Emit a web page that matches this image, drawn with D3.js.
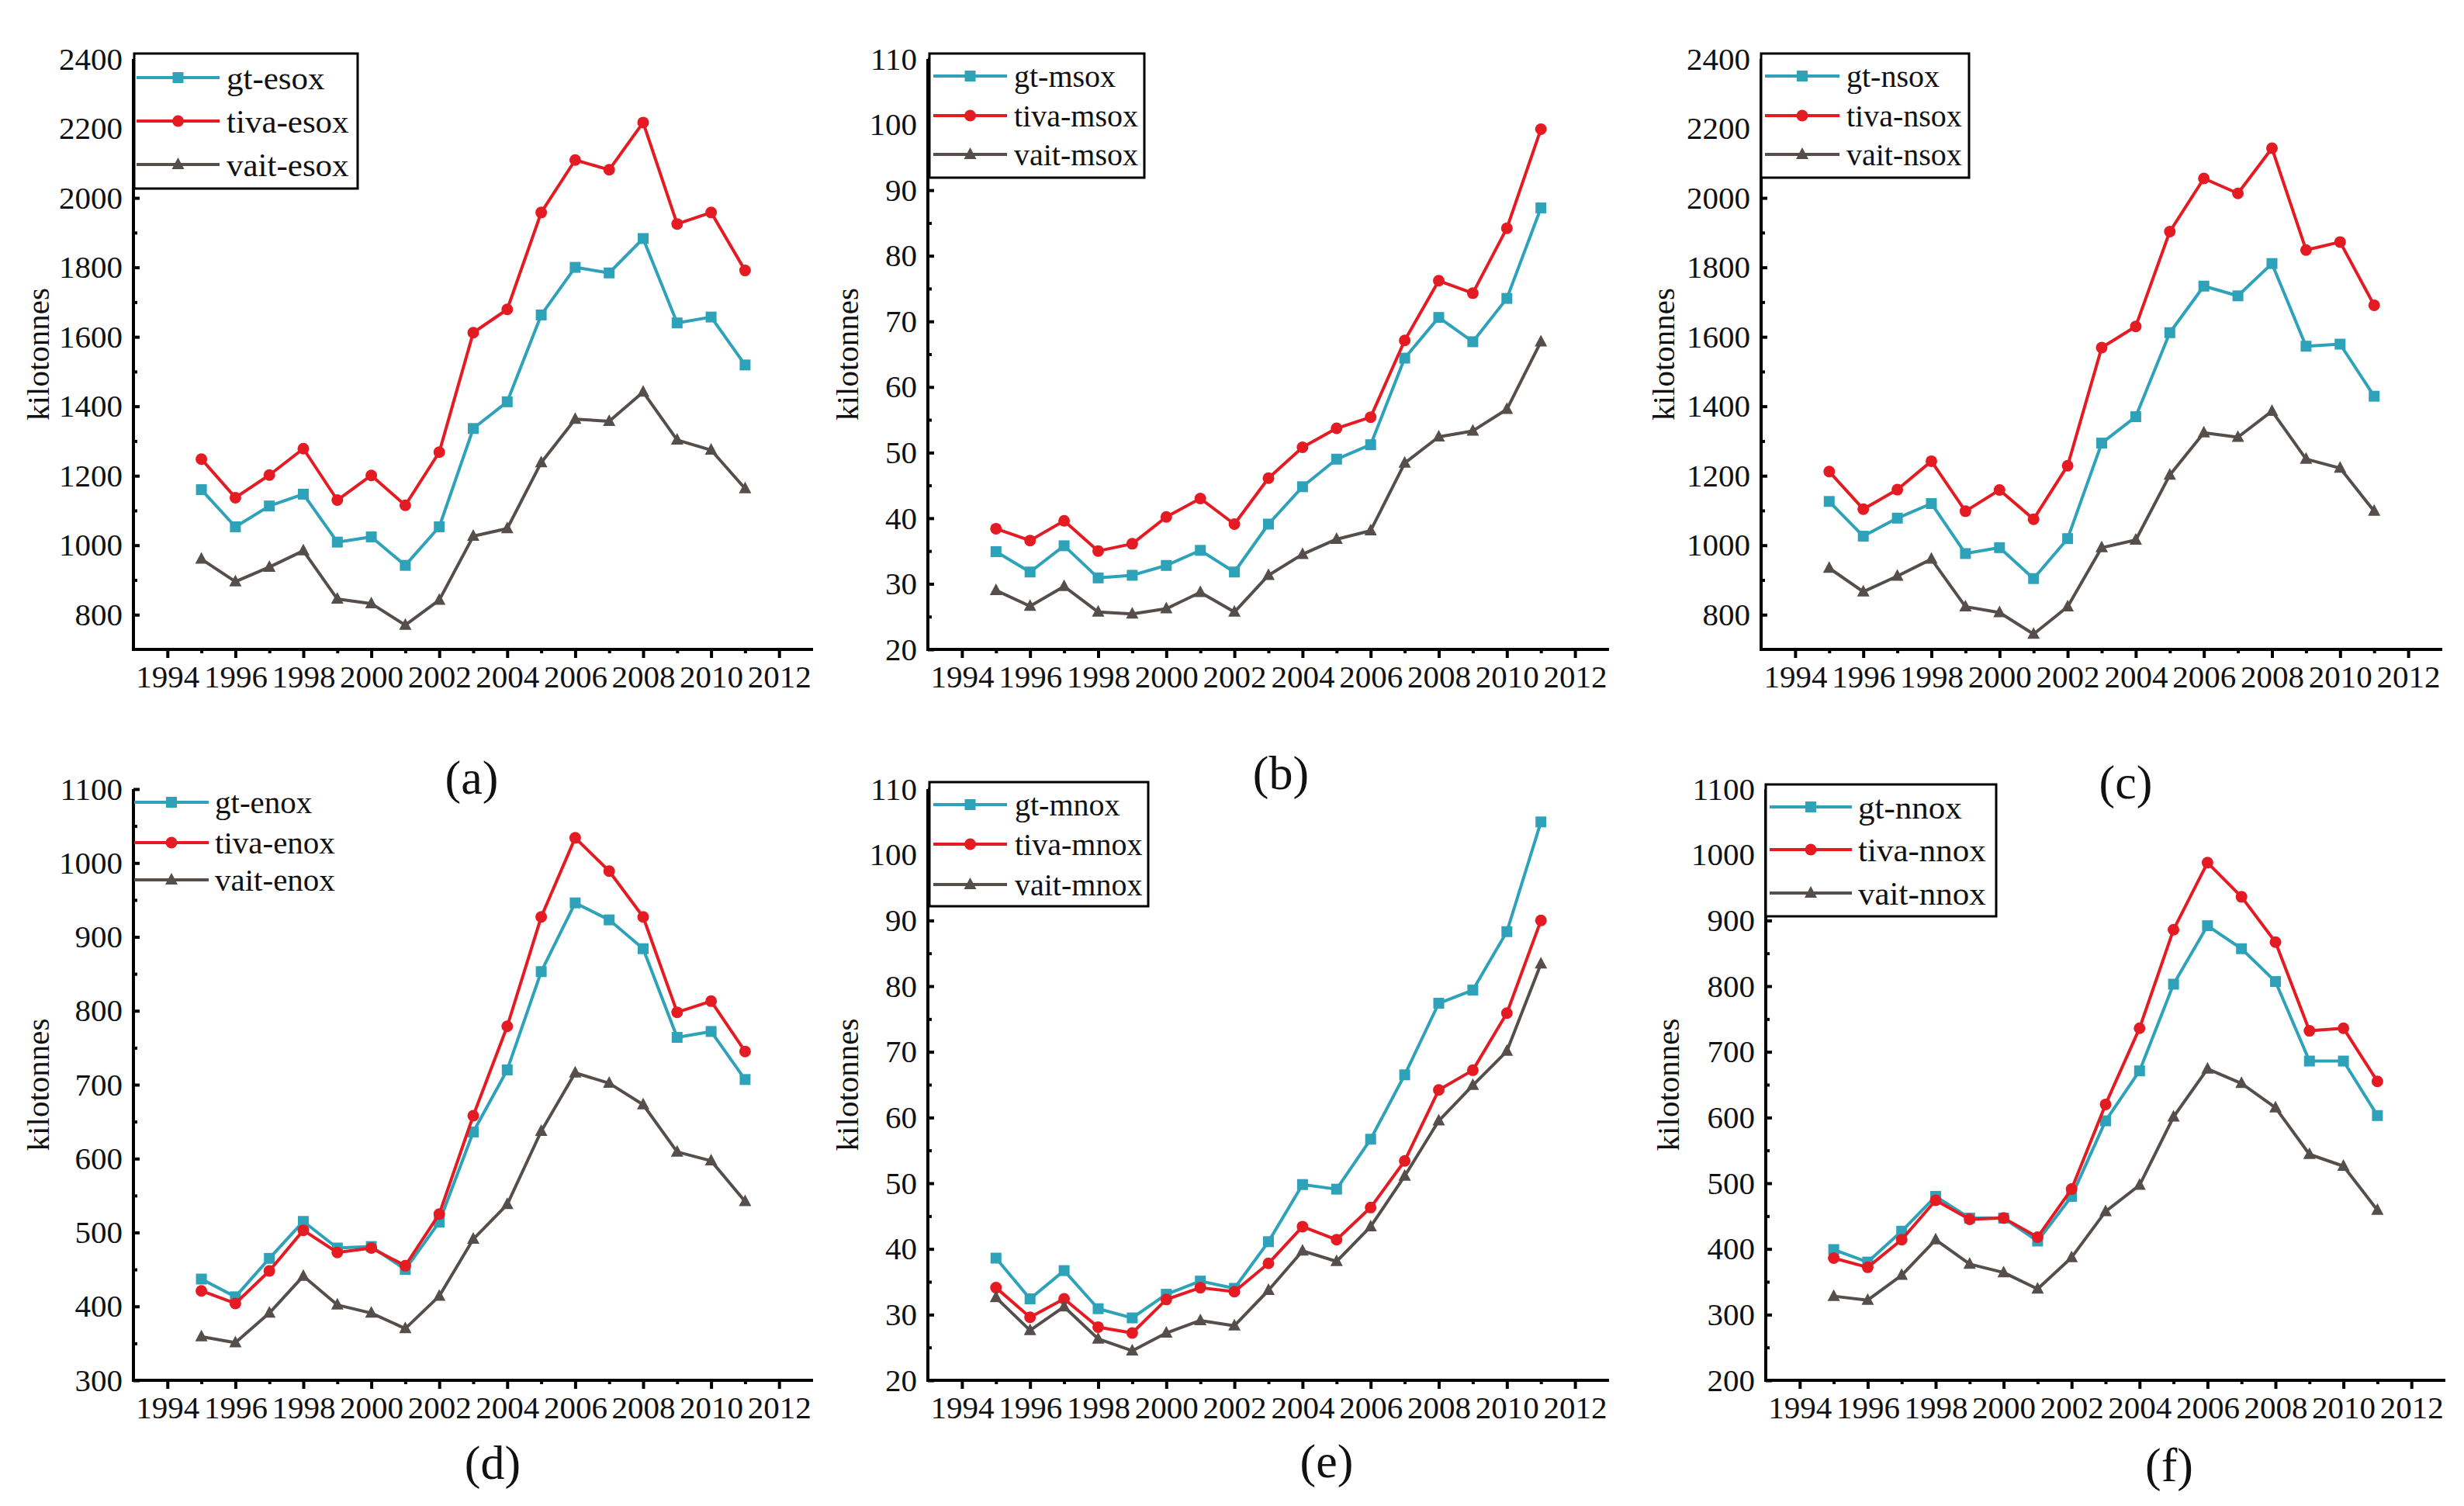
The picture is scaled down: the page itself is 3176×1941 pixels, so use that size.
<!DOCTYPE html>
<html>
<head>
<meta charset="utf-8">
<script src="https://cdn.jsdelivr.net/npm/d3@7"></script>
<style>
  body { margin: 0; background: #fff; }
  text { font-family: "Liberation Serif", "DejaVu Serif", serif; fill: #111; }
</style>
</head>
<body>
<svg id="chart"></svg>
<script>
// years on the x axis
const years = [1995, 1996, 1997, 1998, 1999, 2000, 2001, 2002, 2003, 2004, 2005, 2006, 2007, 2008, 2009, 2010, 2011];
const xTickYears = [1994, 1996, 1998, 2000, 2002, 2004, 2006, 2008, 2010, 2012];
const xMinorYears = [1995, 1997, 1999, 2001, 2003, 2005, 2007, 2009, 2011];

// (a) esox
const gtEsox   = [1160, 1053, 1113, 1147, 1009, 1024, 942, 1053, 1336, 1413, 1663, 1800, 1784, 1883, 1640, 1657, 1519];
const tivaEsox = [1248, 1137, 1202, 1278, 1130, 1201, 1115, 1268, 1612, 1679, 1958, 2109, 2081, 2217, 1925, 1958, 1791];
const vaitEsox = [960, 895, 937, 984, 845, 832, 770, 842, 1026, 1048, 1238, 1363, 1357, 1441, 1303, 1274, 1163];

// (b) msox
const gtMsox   = [34.9, 31.8, 35.8, 30.9, 31.3, 32.8, 35.1, 31.8, 39.1, 44.8, 49.0, 51.2, 64.4, 70.6, 66.9, 73.5, 87.3];
const tivaMsox = [38.4, 36.6, 39.6, 35.0, 36.1, 40.2, 43.0, 39.1, 46.1, 50.8, 53.7, 55.4, 67.1, 76.2, 74.3, 84.2, 99.3];
const vaitMsox = [29.0, 26.6, 29.6, 25.7, 25.4, 26.2, 28.7, 25.7, 31.3, 34.5, 36.8, 38.1, 48.4, 52.4, 53.3, 56.6, 66.9];

// (c) nsox
const gtNsox   = [1126, 1026, 1078, 1120, 976, 993, 904, 1019, 1294, 1370, 1612, 1746, 1718, 1811, 1573, 1579, 1429];
const tivaNsox = [1212, 1104, 1160, 1242, 1098, 1159, 1075, 1229, 1569, 1630, 1903, 2056, 2013, 2143, 1850, 1873, 1691];
const vaitNsox = [934, 866, 911, 960, 823, 806, 744, 823, 993, 1015, 1202, 1324, 1311, 1386, 1248, 1222, 1098];

// (d) enox
const gtEnox   = [437, 413, 465, 515, 479, 481, 450, 514, 636, 720, 853, 946, 923, 884, 764, 772, 707];
const tivaEnox = [421, 404, 448, 503, 473, 479, 455, 525, 658, 779, 927, 1034, 989, 927, 798, 813, 745];
const vaitEnox = [359, 351, 391, 441, 402, 391, 370, 414, 491, 538, 637, 716, 702, 673, 609, 597, 542];

// (e) mnox
const gtMnox   = [38.6, 32.4, 36.7, 30.9, 29.5, 33.1, 35.1, 34.0, 41.1, 49.8, 49.1, 56.7, 66.5, 77.4, 79.4, 88.3, 105.0];
const tivaMnox = [34.1, 29.6, 32.4, 28.1, 27.2, 32.3, 34.1, 33.5, 37.8, 43.4, 41.4, 46.3, 53.4, 64.2, 67.2, 75.9, 90.0];
const vaitMnox = [32.6, 27.6, 31.2, 26.3, 24.5, 27.2, 29.1, 28.3, 33.7, 39.7, 38.1, 43.4, 51.1, 59.5, 64.9, 70.1, 83.4];

// (f) nnox
const gtNnox   = [399, 380, 427, 480, 447, 447, 412, 480, 595, 671, 803, 892, 857, 807, 686, 686, 603];
const tivaNnox = [386, 372, 414, 474, 445, 447, 418, 491, 620, 736, 886, 988, 936, 867, 732, 736, 655];
const vaitNnox = [328, 322, 360, 414, 377, 364, 339, 387, 457, 497, 601, 674, 652, 615, 544, 526, 459];

// y tick labels
const ticksSox  = [800, 1000, 1200, 1400, 1600, 1800, 2000, 2200, 2400];
const minorSox  = [900, 1100, 1300, 1500, 1700, 1900, 2100, 2300];
const ticksM    = [20, 30, 40, 50, 60, 70, 80, 90, 100, 110];
const minorM    = [25, 35, 45, 55, 65, 75, 85, 95, 105];
const ticksEnox = [300, 400, 500, 600, 700, 800, 900, 1000, 1100];
const minorEnox = [350, 450, 550, 650, 750, 850, 950, 1050];
const ticksNnox = [200, 300, 400, 500, 600, 700, 800, 900, 1000, 1100];
const minorNnox = [250, 350, 450, 550, 650, 750, 850, 950, 1050];

const seriesNames = ["gt", "tiva", "vait"];
const colors = { gt: "#2ea2b9", tiva: "#e41b23", vait: "#554e4b" };
const serif = '"Liberation Serif", "DejaVu Serif", serif';

const svg = d3.select("#chart").attr("width", 3176).attr("height", 1941);

const panels = [
  { tag: "(a)", key: "esox", data: [gtEsox, tivaEsox, vaitEsox], dom: [700, 2400], ticks: ticksSox, minor: minorSox,
    x0: 172, x1: 1048, y0: 76, y1: 837, ylabX: 49, capX: 608, capY: 1002,
    leg: { box: [173, 461, 69, 243], rows: [100, 156, 212], line: [176, 283], tx: 292, fs: 43 } },
  { tag: "(b)", key: "msox", data: [gtMsox, tivaMsox, vaitMsox], dom: [20, 110], ticks: ticksM, minor: minorM,
    x0: 1196, x1: 2074, y0: 76, y1: 837, ylabX: 1092, capX: 1651, capY: 996,
    leg: { box: [1198, 1475, 69, 229], rows: [98, 149, 199], line: [1203, 1298], tx: 1307, fs: 40 } },
  { tag: "(c)", key: "nsox", data: [gtNsox, tivaNsox, vaitNsox], dom: [700, 2400], ticks: ticksSox, minor: minorSox,
    x0: 2270, x1: 3148, y0: 76, y1: 837, ylabX: 2144, capX: 2740, capY: 1008,
    leg: { box: [2270, 2538, 69, 229], rows: [98, 149, 199], line: [2275, 2371], tx: 2380, fs: 40 } },
  { tag: "(d)", key: "enox", data: [gtEnox, tivaEnox, vaitEnox], dom: [300, 1100], ticks: ticksEnox, minor: minorEnox,
    x0: 172, x1: 1048, y0: 1017, y1: 1779, ylabX: 49, capX: 635, capY: 1885,
    leg: { box: null, rows: [1034, 1086, 1134], line: [173, 269], tx: 277, fs: 41 } },
  { tag: "(e)", key: "mnox", data: [gtMnox, tivaMnox, vaitMnox], dom: [20, 110], ticks: ticksM, minor: minorM,
    x0: 1196, x1: 2074, y0: 1017, y1: 1779, ylabX: 1092, capX: 1710, capY: 1883,
    leg: { box: [1198, 1480, 1008, 1168], rows: [1037, 1088, 1140], line: [1203, 1298], tx: 1308, fs: 40 } },
  { tag: "(f)", key: "nnox", data: [gtNnox, tivaNnox, vaitNnox], dom: [200, 1100], ticks: ticksNnox, minor: minorNnox,
    x0: 2276, x1: 3152, y0: 1017, y1: 1779, ylabX: 2150, capX: 2796, capY: 1888,
    leg: { box: [2276, 2573, 1011, 1181], rows: [1040, 1095, 1151], line: [2281, 2387], tx: 2395, fs: 43 } }
];

function marker(g, name, x, y) {
  const c = colors[name];
  if (name === "gt") {
    g.append("rect").attr("x", x - 7).attr("y", y - 7).attr("width", 14).attr("height", 14).attr("fill", c);
  } else if (name === "tiva") {
    g.append("circle").attr("cx", x).attr("cy", y).attr("r", 7.5).attr("fill", c);
  } else {
    g.append("path").attr("d", `M${x},${y - 9}L${x + 8},${y + 6}L${x - 8},${y + 6}Z`).attr("fill", c);
  }
}

panels.forEach(p => {
  const g = svg.append("g");
  const x = d3.scaleLinear().domain([1993, 2013]).range([p.x0, p.x1]);
  const y = d3.scaleLinear().domain(p.dom).range([p.y1, p.y0]);

  // x axis: outward ticks
  const xAxis = g.append("g").attr("transform", `translate(0,${p.y1})`)
    .call(d3.axisBottom(x).tickValues(xTickYears).tickFormat(d3.format("d")).tickSize(11).tickPadding(9));
  g.append("g").attr("transform", `translate(0,${p.y1})`)
    .call(d3.axisBottom(x).tickValues(xMinorYears).tickFormat("").tickSize(5))
    .call(a => a.select(".domain").remove());

  // y axis: inward ticks
  const yAxis = g.append("g").attr("transform", `translate(${p.x0},0)`)
    .call(d3.axisLeft(y).tickValues(p.ticks).tickFormat(d3.format("d")).tickSize(-8).tickPadding(14));
  g.append("g").attr("transform", `translate(${p.x0},0)`)
    .call(d3.axisLeft(y).tickValues(p.minor).tickFormat("").tickSize(-5))
    .call(a => a.select(".domain").remove());

  g.selectAll("g").attr("font-family", serif);
  g.selectAll(".domain").attr("stroke", "#000").attr("stroke-width", 4);
  g.selectAll(".tick line").attr("stroke", "#000").attr("stroke-width", 4);
  g.selectAll(".tick text").attr("font-size", 41).style("font-family", serif).attr("fill", "#111");
  xAxis.selectAll(".domain").attr("d", `M${p.x0 - 2},0H${p.x1}`);
  yAxis.selectAll(".domain").attr("d", `M0,${p.y1 + 2}V${p.y0}`);

  // y label
  g.append("text")
    .attr("transform", `translate(${p.ylabX},${(p.y0 + p.y1) / 2}) rotate(-90)`)
    .attr("text-anchor", "middle").attr("dominant-baseline", "central")
    .attr("font-size", 41).attr("fill", "#222")
    .text("kilotonnes");

  // series
  seriesNames.forEach((name, i) => {
    const vals = p.data[i];
    const line = d3.line().x((d, j) => x(years[j])).y(d => y(d));
    g.append("path").datum(vals).attr("d", line)
      .attr("fill", "none").attr("stroke", colors[name]).attr("stroke-width", 4).attr("stroke-linejoin", "round");
    vals.forEach((v, j) => marker(g, name, x(years[j]), y(v)));
  });

  // legend
  const L = p.leg;
  if (L.box) {
    g.append("rect").attr("x", L.box[0]).attr("y", L.box[2])
      .attr("width", L.box[1] - L.box[0]).attr("height", L.box[3] - L.box[2])
      .attr("fill", "#fff").attr("stroke", "#000").attr("stroke-width", 3);
  }
  seriesNames.forEach((name, i) => {
    const ry = L.rows[i];
    g.append("line").attr("x1", L.line[0]).attr("x2", L.line[1]).attr("y1", ry).attr("y2", ry)
      .attr("stroke", colors[name]).attr("stroke-width", 4);
    marker(g, name, (L.line[0] + L.line[1]) / 2, ry);
    g.append("text").attr("x", L.tx).attr("y", ry).attr("dominant-baseline", "central")
      .attr("font-size", L.fs).text(`${name}-${p.key}`);
  });

  // panel caption
  g.append("text").attr("x", p.capX).attr("y", p.capY)
    .attr("text-anchor", "middle").attr("dominant-baseline", "central")
    .attr("font-size", 62).text(p.tag);
});
</script>
</body>
</html>
